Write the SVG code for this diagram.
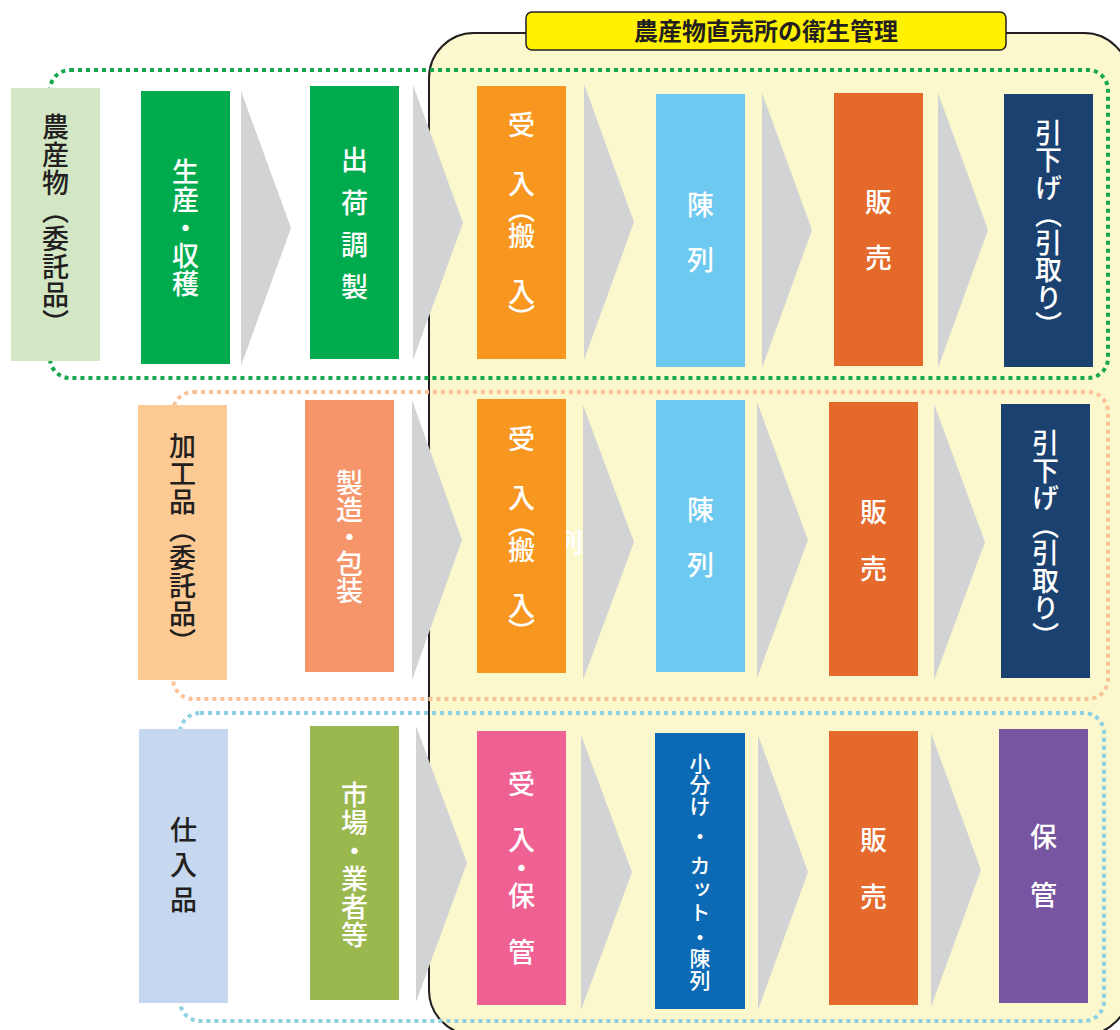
<svg xmlns="http://www.w3.org/2000/svg" width="1120" height="1030" viewBox="0 0 1120 1030">
<style>
.v{writing-mode:vertical-rl;text-anchor:middle;font-family:"Noto Sans CJK JP","Noto Sans CJK SC",sans-serif;font-size:27px;font-weight:500}
.w{fill:#ffffff}
.d{fill:#231f20}
.s{font-size:21px}
.dot{fill:none;stroke-width:4;stroke-dasharray:4 4}
.arr{fill:#d1d3d4}
</style>
<g id="frame">
<rect x="429" y="33" width="700" height="1002" rx="45" fill="#fbf8cd" stroke="#231f20" stroke-width="2"/>
</g>
<g id="groups">
<rect class="dot" x="50" y="70" width="1058" height="308" rx="20" stroke="#16a84b"/>
<rect class="dot" x="173" y="392" width="935" height="307" rx="20" stroke="#fbc197"/>
<rect class="dot" x="180" y="713" width="924" height="308" rx="20" stroke="#8dd0e1"/>
</g>
<g id="title">
<rect x="526" y="12" width="480" height="38" rx="6" fill="#fff100" stroke="#231f20" stroke-width="1.5"/>
<text x="766" y="40" text-anchor="middle" font-family="Noto Sans CJK JP, sans-serif" font-size="24" font-weight="700" fill="#231f20">農産物直売所の衛生管理</text>
</g>
<g id="r1n1"><rect x="11" y="88" width="89" height="273" fill="#d3e7c5"/><text class="v d" x="55.5" y="127 155 183 211 239 267 295 323">農産物（委託品）</text></g>
<g id="r1n2"><rect x="141" y="91" width="89" height="273" fill="#00ab4e"/><text class="v w" x="185.5" y="172 200 228 256 284">生産・収穫</text></g>
<g id="r1n3"><rect x="310" y="86" width="89" height="273" fill="#00ab4e"/><text class="v w" x="354.5" y="160 203 245 287">出荷調製</text></g>
<g id="r1n4"><rect x="477" y="86" width="89" height="273" fill="#f8971f"/><text class="v w" x="521.5" y="125 184 210 236 292 318">受入（搬入）</text></g>
<g id="r1n5"><rect x="656" y="94" width="89" height="273" fill="#6ec9f1"/><text class="v w" x="700.5" y="205 260">陳列</text></g>
<g id="r1n6"><rect x="834" y="93" width="89" height="273" fill="#e4692a"/><text class="v w" x="878.5" y="202 258">販売</text></g>
<g id="r1n7"><rect x="1004" y="94" width="89" height="273" fill="#1a4170"/><text class="v w" x="1048.5" y="132.5 160 187.5 215 242.5 270 297.5 325">引下げ（引取り）</text></g>
<g id="r2n1"><rect x="138" y="405" width="89" height="275" fill="#fdca94"/><text class="v d" x="182.5" y="446 474 502 530 558 586 614 642">加工品（委託品）</text></g>
<g id="r2n2"><rect x="305" y="400" width="89" height="272" fill="#f7956a"/><text class="v w" x="349.5" y="483 510 537 564 591">製造・包装</text></g>
<g id="r2n3"><text x="569.5" y="553" text-anchor="middle" font-family="Noto Sans CJK JP, sans-serif" font-size="27" font-weight="700" fill="#ffffff">列</text><rect x="477" y="399" width="89" height="274" fill="#f8971f"/><text class="v w" x="521.5" y="439 498 524 550 606 632">受入（搬入）</text></g>
<g id="r2n4"><rect x="656" y="400" width="89" height="272" fill="#6ec9f1"/><text class="v w" x="700.5" y="510 565">陳列</text></g>
<g id="r2n5"><rect x="829" y="402" width="89" height="274" fill="#e4692a"/><text class="v w" x="873.5" y="512 569">販売</text></g>
<g id="r2n6"><rect x="1001" y="404" width="89" height="274" fill="#1a4170"/><text class="v w" x="1045.5" y="443 470.5 498 525.5 553 580.5 608 635.5">引下げ（引取り）</text></g>
<g id="r3n1"><rect x="139" y="729" width="89" height="274" fill="#c6d8ef"/><text class="v d" x="183.5" y="830 865 900">仕入品</text></g>
<g id="r3n2"><rect x="310" y="726" width="89" height="274" fill="#9bb84f"/><text class="v w" x="354.5" y="795 823 851 879 907 935">市場・業者等</text></g>
<g id="r3n3"><rect x="477" y="731" width="89" height="274" fill="#ef6093"/><text class="v w" x="521.5" y="784 840 868 896 952">受入・保管</text></g>
<g id="r3n4"><rect x="655" y="733" width="90" height="276" fill="#0b6ab3"/><text class="v w s" x="700" y="763 784 806 836 865 889 912 937 958 980">小分け・カット・陳列</text></g>
<g id="r3n5"><rect x="829" y="731" width="89" height="274" fill="#e4692a"/><text class="v w" x="873.5" y="840 897">販売</text></g>
<g id="r3n6"><rect x="999" y="729" width="89" height="274" fill="#7855a0"/><text class="v w" x="1043.5" y="837 895">保管</text></g>
<g id="connectors">
<polygon class="arr" points="241,91 291,228 241,366"/>
<polygon class="arr" points="413,85 463,223 413,360"/>
<polygon class="arr" points="584,84 634,222 584,360"/>
<polygon class="arr" points="762,93 812,230 762,368"/>
<polygon class="arr" points="938,93 988,230 938,368"/>
<polygon class="arr" points="412,400 462,540 412,680"/>
<polygon class="arr" points="583,405 634,542 583,680"/>
<polygon class="arr" points="757,402 808,540 757,678"/>
<polygon class="arr" points="934,404 985,542 934,680"/>
<polygon class="arr" points="416,726 467,863 416,1002"/>
<polygon class="arr" points="581,735 632,872 581,1010"/>
<polygon class="arr" points="758,735 808,872 758,1010"/>
<polygon class="arr" points="931,733 981,870 931,1007"/>
</g>
</svg>
